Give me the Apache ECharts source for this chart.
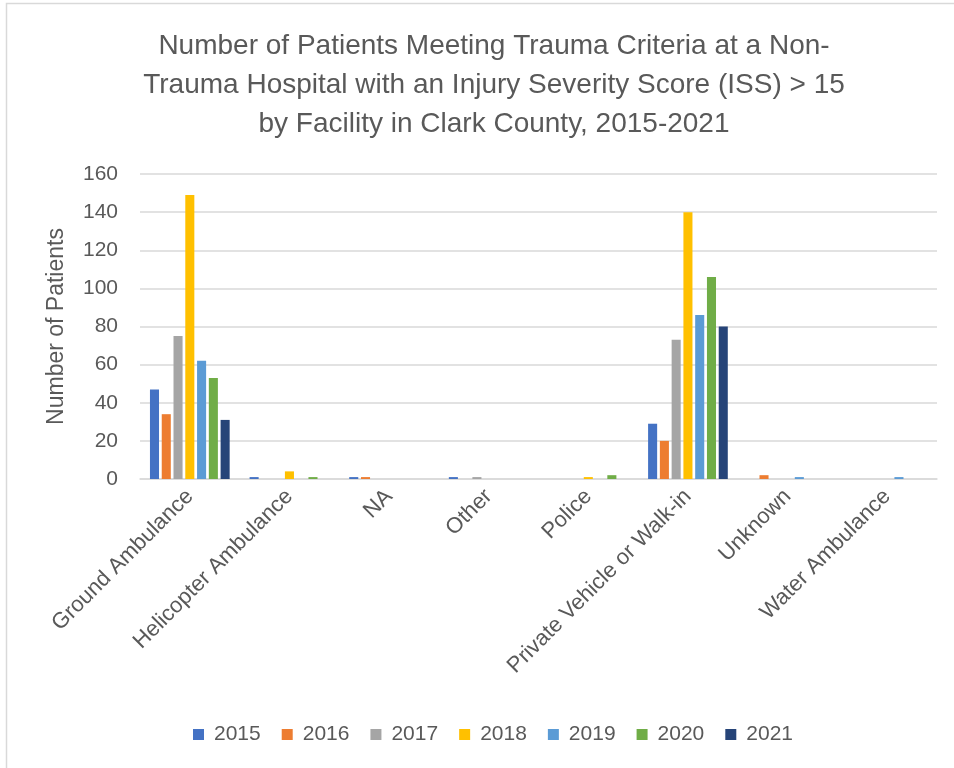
<!DOCTYPE html>
<html>
<head>
<meta charset="utf-8">
<script src="https://cdn.jsdelivr.net/npm/echarts@6/dist/echarts.min.js"></script>
<style>html,body{margin:0;padding:0;background:#fff;}#c{width:954px;height:768px;}</style>
</head>
<body>
<div id="c"></div>
<script>
var categories = ["Ground Ambulance","Helicopter Ambulance","NA","Other","Police","Private Vehicle or Walk-in","Unknown","Water Ambulance"];
var years = ["2015","2016","2017","2018","2019","2020","2021"];
var v2015 = [47, 1, 1, 1, 0, 29, 0, 0];
var v2016 = [34, 0, 1, 0, 0, 20, 2, 0];
var v2017 = [75, 0, 0, 1, 0, 73, 0, 0];
var v2018 = [149, 4, 0, 0, 1, 140, 0, 0];
var v2019 = [62, 0, 0, 0, 0, 86, 1, 1];
var v2020 = [53, 1, 0, 0, 2, 106, 0, 0];
var v2021 = [31, 0, 0, 0, 0, 80, 0, 0];
var yTicks = [0, 20, 40, 60, 80, 100, 120, 140, 160];

var colors = ["#4472C4","#ED7D31","#A5A5A5","#FFC000","#5B9BD5","#70AD47","#264478"];
var seriesData = [v2015, v2016, v2017, v2018, v2019, v2020, v2021];
var font = "'Liberation Sans', Arial, sans-serif";
var txt = "#595959";

var chart = echarts.init(document.getElementById('c'));
chart.setOption({
  animation: false,
  color: colors,
  textStyle: {fontFamily: font},
  title: {
    text: "Number of Patients Meeting Trauma Criteria at a Non-\nTrauma Hospital with an Injury Severity Score (ISS) > 15\nby Facility in Clark County, 2015-2021",
    left: 489, top: 22, textAlign: 'center',
    textStyle: {fontFamily: font, fontSize: 28, fontWeight: 'normal', color: txt, lineHeight: 39}
  },
  graphic: [{
    type: 'rect', shape: {x: 6.5, y: 3.5, width: 1000, height: 1000},
    style: {fill: 'none', stroke: '#d9d9d9', lineWidth: 1.5}, silent: true
  }],
  legend: {
    top: 719, left: 188,
    itemWidth: 11, itemHeight: 11, itemGap: 21,
    icon: 'rect',
    textStyle: {fontFamily: font, fontSize: 21, color: txt, padding: [0, 0, 0, 5]},
    data: years
  },
  grid: {left: 140, right: 17, top: 174, bottom: 289, containLabel: false},
  xAxis: {
    type: 'category', data: categories,
    axisLine: {lineStyle: {color: '#d9d9d9', width: 1.5}},
    axisTick: {show: false},
    axisLabel: {rotate: 45, interval: 0, fontSize: 22, color: txt, fontFamily: font, margin: 14}
  },
  yAxis: {
    type: 'value', min: yTicks[0], max: yTicks[yTicks.length-1], interval: 20,
    name: 'Number of Patients', nameLocation: 'middle', nameGap: 72, nameRotate: 90,
    nameTextStyle: {fontFamily: font, fontSize: 23, color: txt},
    axisLine: {show: false}, axisTick: {show: false},
    splitLine: {lineStyle: {color: '#d9d9d9', width: 1.5}},
    axisLabel: {fontSize: 21, color: txt, fontFamily: font, margin: 22}
  },
  series: years.map(function(y, i){
    return {name: y, type: 'bar', data: seriesData[i], barGap: '30%', barCategoryGap: '20%'};
  })
});
</script>
</body>
</html>
